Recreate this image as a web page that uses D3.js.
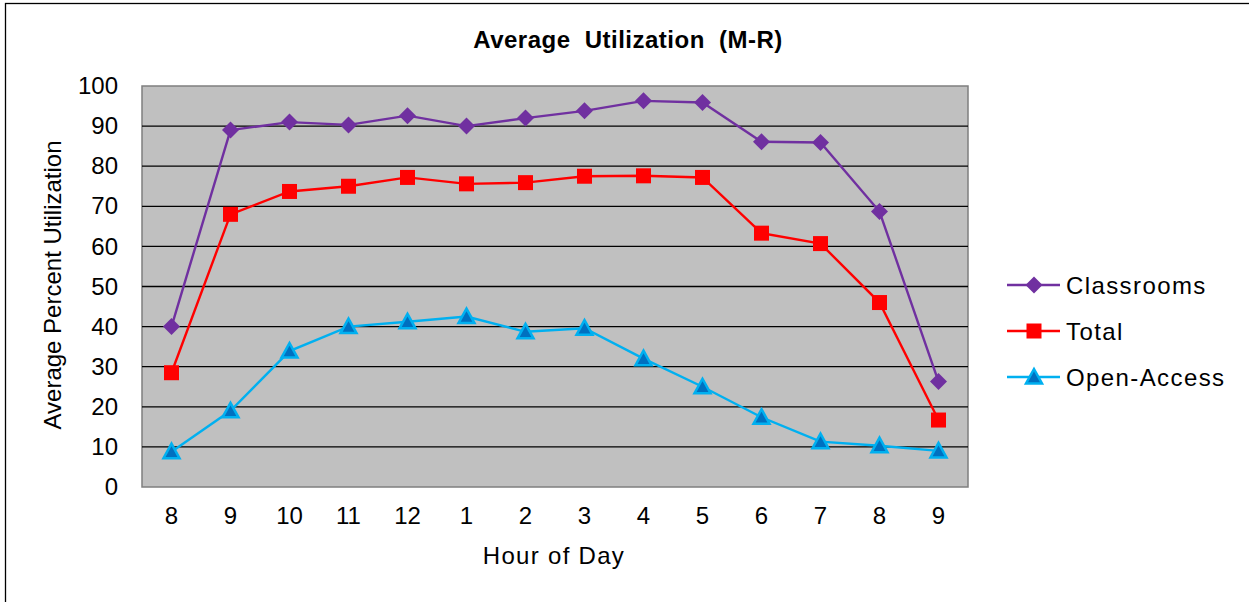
<!DOCTYPE html>
<html><head><meta charset="utf-8">
<script src="https://cdn.jsdelivr.net/npm/d3@7"></script>
<style>body{margin:0;background:#fff}svg{display:block;font-family:"Liberation Sans",Arial,sans-serif}</style>
</head><body>
<svg id="c" width="1249" height="602"></svg>
<script>
const categories = ["8","9","10","11","12","1","2","3","4","5","6","7","8","9"];
const classrooms = [40, 89, 91, 90.3, 92.6, 90, 92, 93.8, 96.3, 95.9, 86.1, 85.9, 68.7, 26.3];
const total = [28.5, 68, 73.7, 75, 77.2, 75.6, 75.9, 77.5, 77.6, 77.2, 63.3, 60.7, 46, 16.7];
const openAccess = [8.8, 19, 33.9, 40, 41.2, 42.5, 38.7, 39.6, 32, 25, 17.4, 11.3, 10.3, 9];
const yTicks = [0,10,20,30,40,50,60,70,80,90,100];
const seriesNames = ["Classrooms","Total","Open-Access"];

const svg = d3.select("#c");
svg.append("rect").attr("x",5.5).attr("y",3.5).attr("width",1260).attr("height",620)
  .attr("fill","#fff").attr("stroke","#000").attr("stroke-width",1.3);

const L=142, R=968, T=86, B=487;
const idx = categories.map((d,i)=>i);
const x = d3.scaleBand().domain(idx).range([L,R]);
const y = d3.scaleLinear().domain([0,100]).range([B,T]);

svg.append("rect").attr("x",L).attr("y",T).attr("width",R-L).attr("height",B-T)
  .attr("fill","#C0C0C0").attr("stroke","#7f7f7f").attr("stroke-width",1.5);

// gridlines
svg.append("g").selectAll("line").data(yTicks.filter(v=>v>0&&v<100)).join("line")
  .attr("x1",L).attr("x2",R).attr("y1",d=>y(d)).attr("y2",d=>y(d))
  .attr("stroke","#000").attr("stroke-width",1.3);

// axes
const yAxis = svg.append("g").attr("transform",`translate(${L},0)`)
  .call(d3.axisLeft(y).tickValues(yTicks).tickSize(0).tickPadding(24));
yAxis.select(".domain").remove();
yAxis.selectAll("text").attr("font-size",24).attr("fill","#000").attr("font-family","Liberation Sans, Arial, sans-serif");

const xAxis = svg.append("g").attr("transform",`translate(0,${B})`)
  .call(d3.axisBottom(x).tickFormat(i=>categories[i]).tickSize(0).tickPadding(20));
xAxis.select(".domain").remove();
xAxis.selectAll("text").attr("font-size",24).attr("fill","#000").attr("font-family","Liberation Sans, Arial, sans-serif");

// title and labels
svg.append("text").attr("x",628).attr("y",48).attr("text-anchor","middle")
  .attr("font-size",24).attr("font-weight","bold").attr("letter-spacing","0.5px").attr("word-spacing","7px").text("Average Utilization (M-R)");
svg.append("text").attr("x",554).attr("y",564).attr("text-anchor","middle")
  .attr("font-size",24).attr("letter-spacing","1.3px").text("Hour of Day");
svg.append("text").attr("transform","translate(61,285) rotate(-90)").attr("text-anchor","middle")
  .attr("font-size",24).text("Average Percent Utilization");

const cx = i => x(i)+x.bandwidth()/2;
const line = d3.line().x((d,i)=>cx(i)).y(d=>y(d));
const colors = ["#7030A0","#FF0000","#00B0F0"];
const data = [classrooms,total,openAccess];

function marker(g, k, px, py){
  if(k===0){
    g.append("path").attr("d",`M${px},${py-8.5}L${px+8.5},${py}L${px},${py+8.5}L${px-8.5},${py}Z`).attr("fill","#7030A0");
  } else if(k===1){
    g.append("rect").attr("x",px-7.5).attr("y",py-7.5).attr("width",15).attr("height",15).attr("fill","#FF0000");
  } else {
    g.append("path").attr("d",`M${px},${py-8}L${px+8},${py+6.5}L${px-8},${py+6.5}Z`)
      .attr("fill","#0070C0").attr("stroke","#00B0F0").attr("stroke-width",2.5).attr("stroke-linejoin","miter");
  }
}

data.forEach((vals,k)=>{
  svg.append("path").datum(vals).attr("d",line).attr("fill","none")
    .attr("stroke",colors[k]).attr("stroke-width",2.4);
  const g = svg.append("g");
  vals.forEach((v,i)=>marker(g,k,cx(i),y(v)));
});

// legend
const legY = [285,331,377];
seriesNames.forEach((n,k)=>{
  const g = svg.append("g");
  g.append("line").attr("x1",1007).attr("x2",1060).attr("y1",legY[k]).attr("y2",legY[k])
    .attr("stroke",colors[k]).attr("stroke-width",2.4);
  marker(g,k,1034,legY[k]);
  g.append("text").attr("x",1066).attr("y",legY[k]+8.5).attr("font-size",24).attr("letter-spacing","1.4px").text(n);
});
</script>
</body></html>
